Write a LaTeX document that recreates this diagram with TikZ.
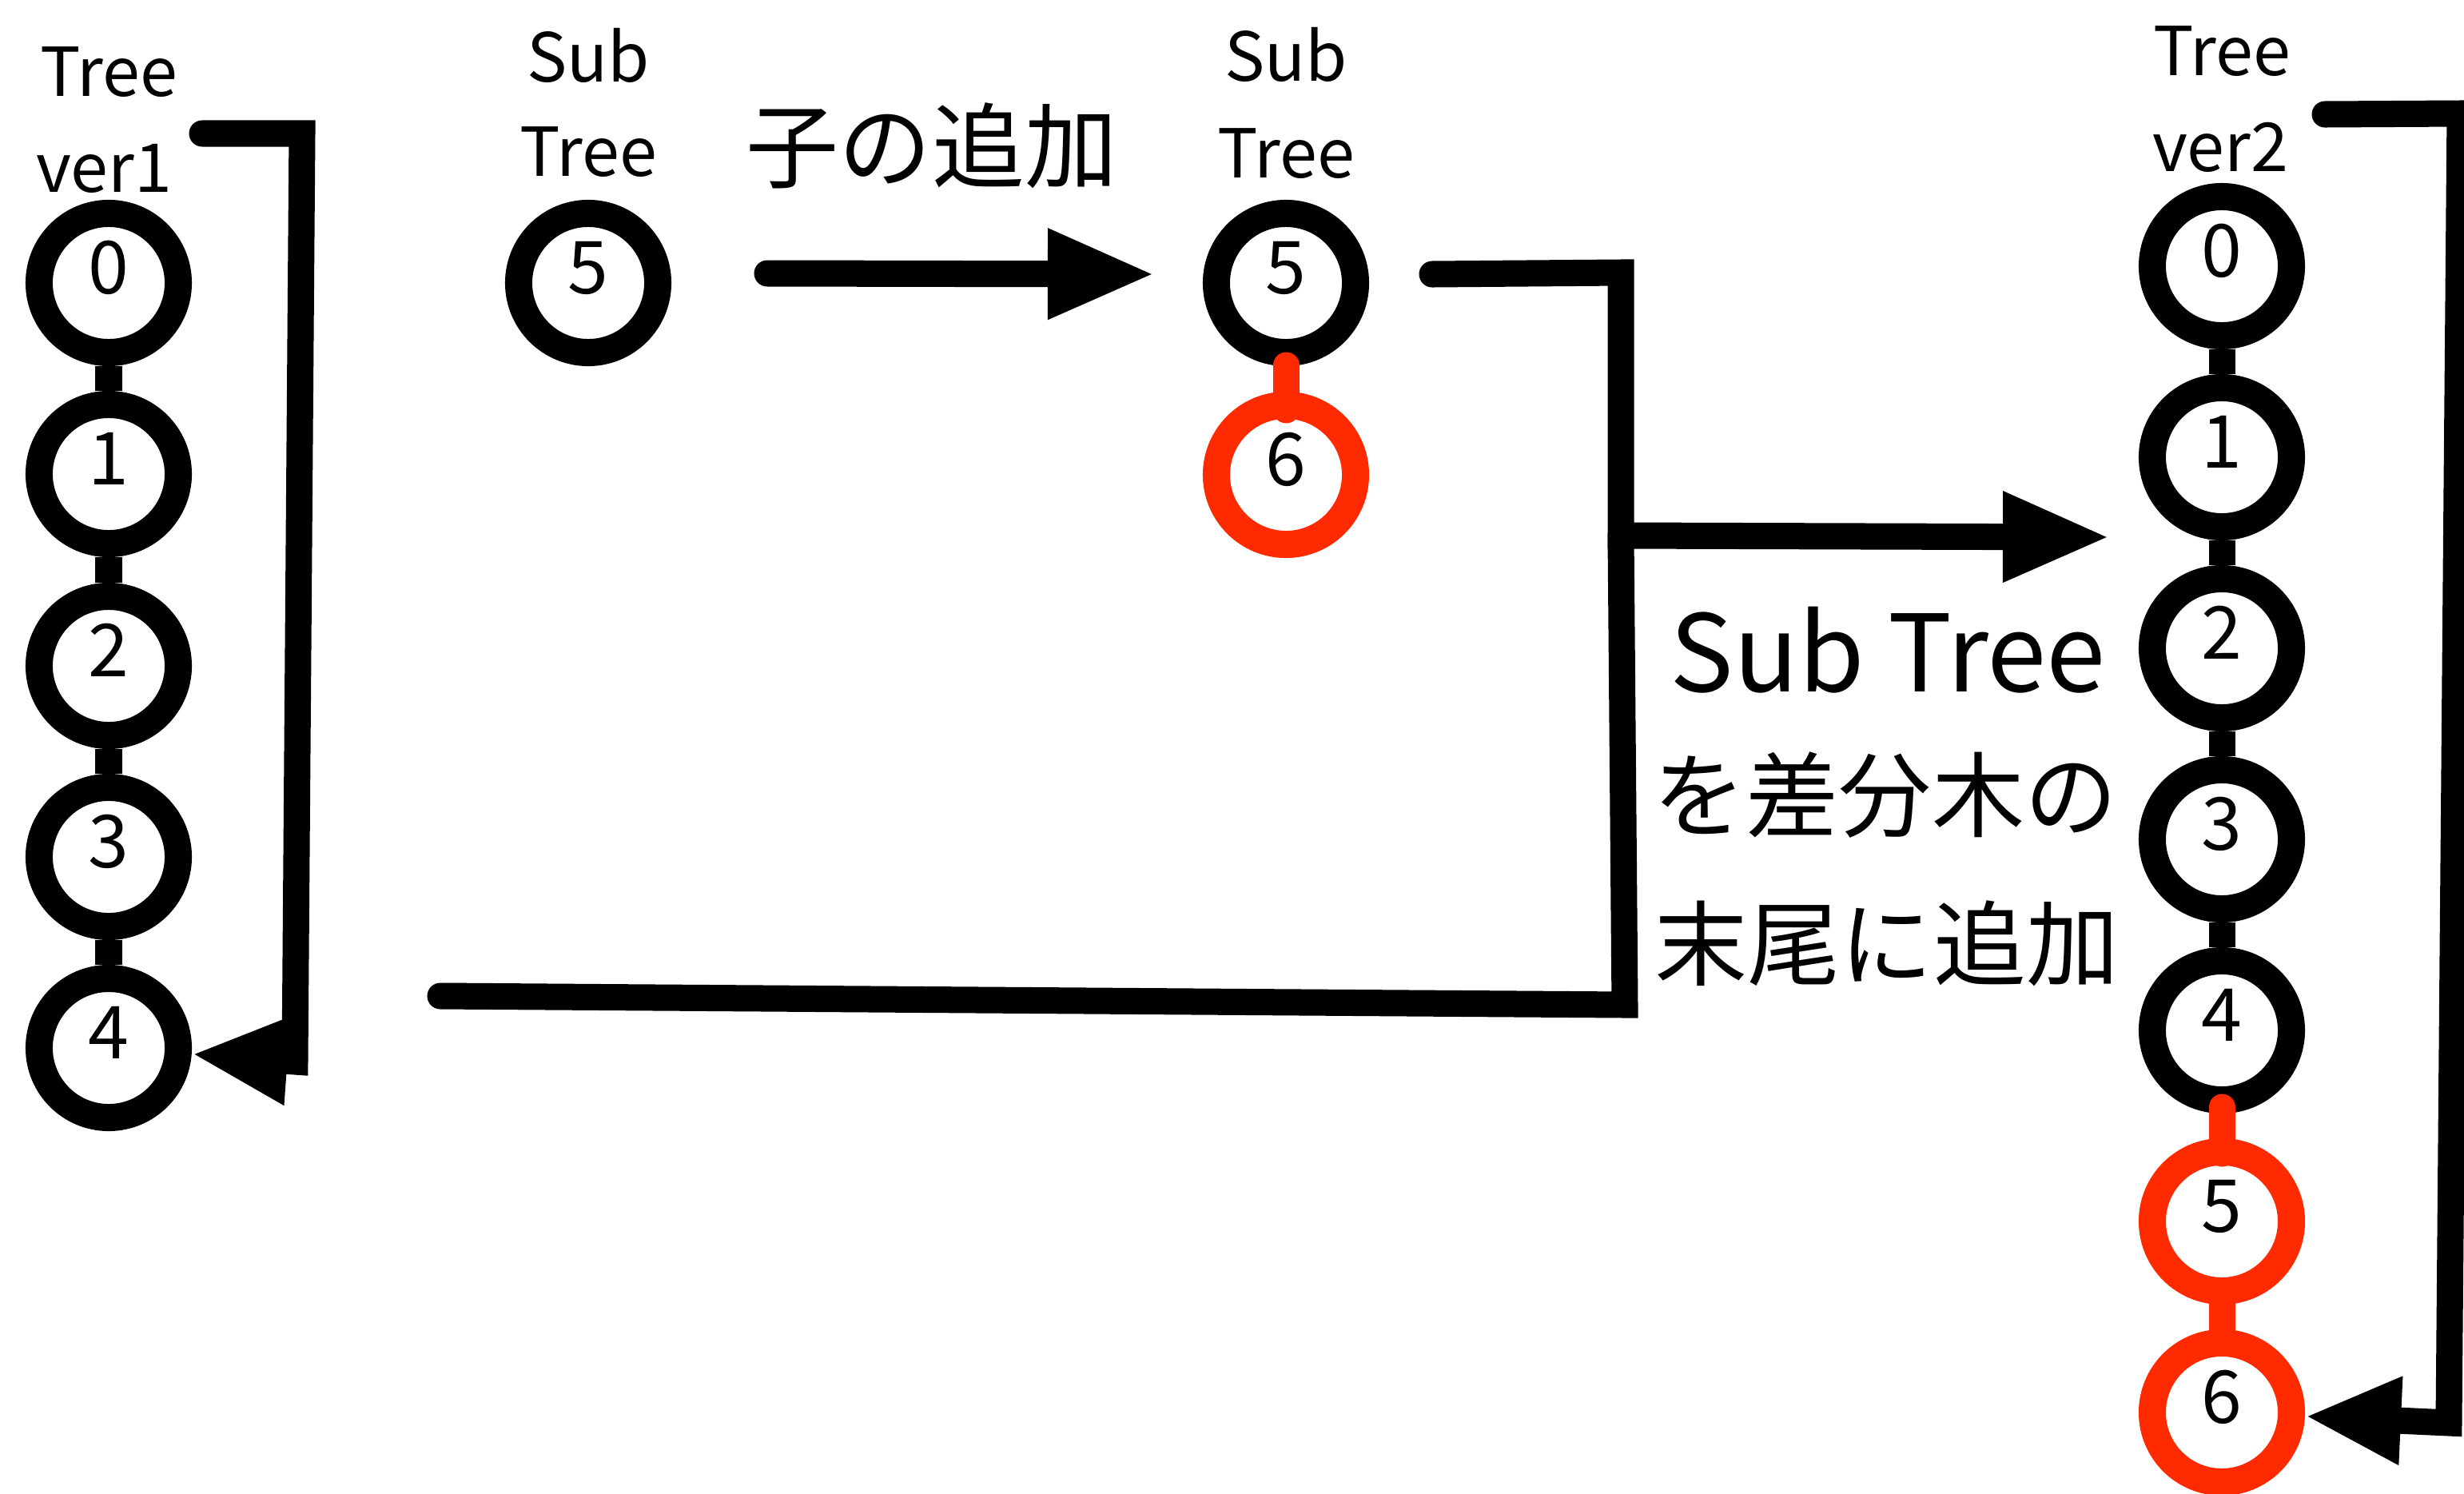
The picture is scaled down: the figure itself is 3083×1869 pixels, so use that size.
\documentclass[tikz,border=0pt]{standalone}
\usepackage{fontspec}
\setmainfont{Noto Sans CJK JP}
\usetikzlibrary{arrows.meta}
\definecolor{redc}{RGB}{255,42,0}
\begin{document}
\begin{tikzpicture}[x=0.01cm, y=-0.01cm,
  tn/.style={circle, draw=black, line width=0.34cm, fill=white, minimum size=1.74cm,
    inner sep=0pt, text height=0.67cm, text depth=0.40cm,
    font=\fontsize{26pt}{30pt}\selectfont},
  rn/.style={tn, draw=redc},
  link/.style={line width=0.33cm, draw=black},
  rlink/.style={line width=0.33cm, draw=redc, line cap=round},
  flow/.style={line width=0.33cm, draw=black, line cap=round,
    -{Triangle[length=1.35cm,width=1.04cm]}},
  flowb/.style={line width=0.33cm, draw=black, line cap=round,
    -{Triangle[length=1.2cm,width=1.02cm]}},
  lbl/.style={anchor=base, inner sep=0pt, font=\fontsize{24pt}{28pt}\selectfont},
  big/.style={anchor=base, inner sep=0pt, font=\fontsize{38pt}{44pt}\selectfont},
  jp/.style={anchor=base, inner sep=0pt, font=\fontsize{33pt}{38pt}\selectfont}]
\useasboundingbox (0,0) rectangle (3083,1869);
\clip (0,0) rectangle (3083,1869);

% Tree ver1
\node[tn] (l0) at (136,354) {0};
\node[tn] (l1) at (136,593) {1};
\node[tn] (l2) at (136,833) {2};
\node[tn] (l3) at (136,1072) {3};
\node[tn] (l4) at (136,1311) {4};
\node[lbl] (tl1) at (136,120) {Tree};
\node[lbl] (tl2) at (130,240) {ver1};

% Sub Tree (before)
\node[tn] (s1) at (736,354) {5};
\node[lbl] (ts1) at (736,102) {Sub};
\node[lbl] (ts2) at (736,220) {Tree};

% Sub Tree (after)
\node[tn] (m5) at (1609,354) {5};
\node[rn] (m6) at (1609,594) {6};
\node[lbl] (tm1) at (1609,101) {Sub};
\node[lbl] (tm2) at (1609,222) {Tree};

% Tree ver2
\node[tn] (r0) at (2780,333) {0};
\node[tn] (r1) at (2780,572) {1};
\node[tn] (r2) at (2780,811) {2};
\node[tn] (r3) at (2780,1050) {3};
\node[tn] (r4) at (2780,1289) {4};
\node[rn] (r5) at (2780,1528) {5};
\node[rn] (r6) at (2780,1767) {6};
\node[lbl] (tr1) at (2780,94) {Tree};
\node[lbl] (tr2) at (2778,214) {ver2};

% links
\draw[link] (l0) -- (l1);
\draw[link] (l1) -- (l2);
\draw[link] (l2) -- (l3);
\draw[link] (l3) -- (l4);
\draw[link] (r0) -- (r1);
\draw[link] (r1) -- (r2);
\draw[link] (r2) -- (r3);
\draw[link] (r3) -- (r4);
\draw[rlink] (r5) -- (r6);
\coordinate (m5b) at (1609,457);
\coordinate (m6t) at (1609,513);
\draw[rlink] (m5b) -- (m6t);
\coordinate (r4b) at (2780,1385);
\coordinate (r5t) at (2780,1443);
\draw[rlink] (r4b) -- (r5t);

% texts
\node[jp] (add) at (1166,226) {子の追加};
\node[big] (bt1) at (2362,865) {Sub Tree};
\node[jp] (bt2) at (2359,1038) {を差分木の};
\node[jp] (bt3) at (2361,1224) {末尾に追加};

% arrows
\coordinate (a1s) at (960,342);
\coordinate (a1e) at (1446,343);
\draw[flow] (a1s) -- (a1e);

\coordinate (a2s) at (1792,343);
\coordinate (jc) at (2028,341);
\coordinate (jn) at (2028,670);
\coordinate (a2e) at (2641,672);
\draw[flow, line join=miter] (a2s) -- (jc) -- (jn) -- (a2e);

\coordinate (bs) at (551,1246);
\coordinate (bc) at (2033,1257);
\draw[link, line cap=round] (bs) -- (bc) -- (jn);

\coordinate (a3s) at (253,167);
\coordinate (a3c) at (378,167);
\coordinate (a3b) at (369,1328);
\draw[flowb] (a3s) -- (a3c) -- (a3b) -- (l4);

\coordinate (a4s) at (2909,143);
\coordinate (a4c) at (3078,142);
\coordinate (a4b) at (3064,1780);
\draw[flowb] (a4s) -- (a4c) -- (a4b) -- (r6);
\end{tikzpicture}
\end{document}
